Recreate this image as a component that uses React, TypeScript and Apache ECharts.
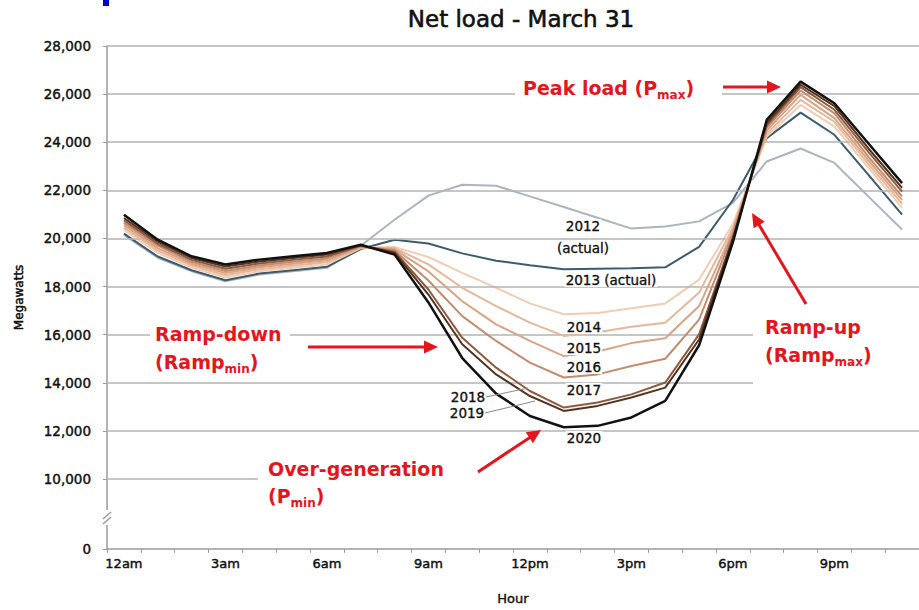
import React, { useEffect, useRef } from 'react';
import * as echarts from 'echarts';

const hours = ['12am', '1am', '2am', '3am', '4am', '5am', '6am', '7am', '8am', '9am', '10am', '11am',
  '12pm', '1pm', '2pm', '3pm', '4pm', '5pm', '6pm', '7pm', '8pm', '9pm', '10pm', '11pm'];

const yTickValues = [7100, 10000, 12000, 14000, 16000, 18000, 20000, 22000, 24000, 26000, 28000];
const gridValues = [10000, 12000, 14000, 16000, 18000, 20000, 22000, 24000, 26000, 28000];

const years = ['2012', '2013', '2014', '2015', '2016', '2017', '2018', '2019', '2020'];
const yearColors = ['#a9b5c0', '#3d5b6e', '#f2cdb3', '#e6b799', '#d9a384', '#c48b6c', '#8f5b3e', '#55331f', '#111111'];

const load2012 = [20150, 19200, 18640, 18220, 18500, 18640, 18780, 19700, 20780, 21780, 22230, 22190, 21750, 21310, 20860, 20410, 20500, 20710, 21480, 23200, 23740, 23140, 21750, 20370];
const load2013 = [20200, 19250, 18680, 18260, 18540, 18680, 18820, 19560, 19950, 19790, 19380, 19070, 18890, 18720, 18740, 18760, 18800, 19650, 21600, 24170, 25230, 24310, 22650, 20990];
const load2014 = [20350, 19400, 18780, 18380, 18640, 18780, 18920, 19600, 19650, 19230, 18570, 17950, 17300, 16850, 16900, 17100, 17300, 18290, 20600, 24240, 25550, 24650, 22950, 21270];
const load2015 = [20450, 19500, 18870, 18470, 18720, 18870, 19010, 19620, 19600, 18920, 17950, 17190, 16500, 15950, 16100, 16330, 16500, 17750, 20450, 24350, 25760, 24850, 23100, 21450];
const load2016 = [20550, 19600, 18950, 18560, 18800, 18950, 19090, 19650, 19550, 18630, 17390, 16430, 15740, 15110, 15300, 15650, 15850, 17190, 20300, 24480, 25970, 25000, 23250, 21600];
const load2017 = [20650, 19700, 19030, 18650, 18880, 19030, 19170, 19680, 19500, 18250, 16770, 15740, 14840, 14220, 14350, 14700, 15000, 16630, 20200, 24600, 26150, 25200, 23400, 21750];
const load2018 = [20750, 19780, 19110, 18740, 18960, 19110, 19250, 19700, 19450, 17880, 15870, 14630, 13660, 12970, 13180, 13520, 14010, 16010, 20050, 24700, 26290, 25350, 23600, 21950];
const load2019 = [20850, 19870, 19190, 18830, 19040, 19190, 19330, 19720, 19400, 17670, 15600, 14350, 13450, 12830, 13040, 13390, 13800, 15800, 20000, 24800, 26390, 25500, 23750, 22100];
const load2020 = [20990, 19950, 19260, 18920, 19120, 19260, 19400, 19740, 19330, 17340, 15030, 13550, 12620, 12150, 12210, 12560, 13250, 15560, 19850, 24930, 26520, 25620, 23960, 22300];

const allLoads = [load2012, load2013, load2014, load2015, load2016, load2017, load2018, load2019, load2020];

const FONT = '"DejaVu Sans", sans-serif';
const RED = '#e5151d';
const INK = '#111111';

function arrow(x1: number, y1: number, x2: number, y2: number) {
  const dx = x2 - x1;
  const dy = y2 - y1;
  const len = Math.sqrt(dx * dx + dy * dy);
  const ux = dx / len;
  const uy = dy / len;
  const headLen = 14;
  const halfW = 6.5;
  const bx = x2 - ux * headLen;
  const by = y2 - uy * headLen;
  return [
    {
      type: 'line', z: 100, silent: true,
      shape: { x1, y1, x2: bx + ux * 2, y2: by + uy * 2 },
      style: { stroke: RED, lineWidth: 3 },
    },
    {
      type: 'polygon', z: 100, silent: true,
      shape: { points: [[x2, y2], [bx - uy * halfW, by + ux * halfW], [bx + uy * halfW, by - ux * halfW]] },
      style: { fill: RED },
    },
  ];
}

function whiteBox(x: number, y: number, w: number, h: number) {
  return { type: 'rect', z: 99, silent: true, shape: { x, y, width: w, height: h }, style: { fill: '#ffffff' } };
}

function redText(x: number, y: number, parts: [string, string][]) {
  const text = parts.map(([k, t]) => `{${k}|${t}}`).join('');
  return {
    type: 'text', z: 101, silent: true, x, y,
    style: {
      text,
      align: 'left',
      verticalAlign: 'middle',
      rich: {
        a: { fontFamily: FONT, fontSize: 19, fontWeight: 'bold', fill: RED, color: RED, lineHeight: 26, verticalAlign: 'middle' },
        s: { fontFamily: FONT, fontSize: 12, fontWeight: 'bold', fill: RED, color: RED, lineHeight: 26, verticalAlign: 'bottom' },
      },
    },
  };
}

function yearText(x: number, y: number, t: string) {
  return {
    type: 'text', z: 101, silent: true, x, y,
    style: {
      text: t, fontFamily: FONT, fontSize: 13.5, fill: INK, align: 'center', verticalAlign: 'middle',
      stroke: INK, lineWidth: 0.35,
      backgroundColor: '#ffffff', padding: [0, 1],
    },
  };
}

export default function App() {
  const ref = useRef<HTMLDivElement>(null);

  useEffect(() => {
    if (!ref.current) return;
    const chart = echarts.init(ref.current, undefined, { renderer: 'svg' });

    const series: any[] = [
      {
        name: 'grid', type: 'line', data: [], z: 1, silent: true,
        markLine: {
          silent: true, symbol: ['none', 'none'], label: { show: false },
          lineStyle: { color: '#b3b3b3', width: 1.5, type: 'solid' },
          emphasis: { disabled: true },
          data: gridValues.map((v) => ({ yAxis: v })),
        },
      },
    ];
    years.forEach((yr, i) => {
      series.push({
        name: yr, type: 'line', data: allLoads[i], showSymbol: false, symbol: 'none', z: 2 + i,
        lineStyle: { color: yearColors[i], width: i === 8 ? 2.5 : 2 },
        itemStyle: { color: yearColors[i] },
        emphasis: { disabled: true }, silent: true,
      });
    });

    const graphic: any[] = [
      { type: 'rect', z: 100, silent: true, shape: { x: 103, y: 0, width: 6, height: 6 }, style: { fill: '#0000c8' } },
      {
        type: 'text', z: 101, silent: true, x: 521, y: 19,
        style: {
          text: 'Net load - March 31', fontFamily: FONT, fontSize: 23, fill: INK, align: 'center', verticalAlign: 'middle',
          stroke: INK, lineWidth: 0.6,
        },
      },
      whiteBox(100, 510, 14, 15),
      { type: 'line', z: 101, silent: true, shape: { x1: 103, y1: 519, x2: 111, y2: 512 }, style: { stroke: '#999', lineWidth: 1.5 } },
      { type: 'line', z: 101, silent: true, shape: { x1: 103, y1: 524, x2: 111, y2: 517 }, style: { stroke: '#999', lineWidth: 1.5 } },
      whiteBox(515, 74, 207, 28),
      redText(523, 88, [['a', 'Peak load (P'], ['s', 'max'], ['a', ')']]),
      ...arrow(723, 87, 781, 87),
      whiteBox(150, 320, 140, 58),
      redText(155, 334, [['a', 'Ramp-down']]),
      redText(155, 362, [['a', '(Ramp'], ['s', 'min'], ['a', ')']]),
      ...arrow(308, 347, 438, 347),
      whiteBox(753, 312, 166, 82),
      redText(765, 327, [['a', 'Ramp-up']]),
      redText(765, 355, [['a', '(Ramp'], ['s', 'max'], ['a', ')']]),
      ...arrow(806, 304, 752, 213),
      whiteBox(258, 455, 661, 56),
      redText(268, 469, [['a', 'Over-generation']]),
      redText(268, 496, [['a', '(P'], ['s', 'min'], ['a', ')']]),
      ...arrow(478, 472, 541, 430),
      yearText(583, 226, '2012'),
      yearText(583, 248, '(actual)'),
      yearText(611, 280, '2013 (actual)'),
      yearText(584, 327, '2014'),
      yearText(584, 348, '2015'),
      yearText(584, 367, '2016'),
      yearText(584, 390, '2017'),
      yearText(584, 438, '2020'),
      yearText(468, 397, '2018'),
      yearText(467, 413, '2019'),
      { type: 'line', z: 101, silent: true, shape: { x1: 486, y1: 397, x2: 528, y2: 388 }, style: { stroke: '#888', lineWidth: 1 } },
      { type: 'line', z: 101, silent: true, shape: { x1: 485, y1: 413, x2: 535, y2: 401 }, style: { stroke: '#888', lineWidth: 1 } },
    ];

    chart.setOption({
      animation: false,
      backgroundColor: '#ffffff',
      textStyle: { fontFamily: FONT },
      grid: { left: 107, right: -6, top: 46, bottom: 60, containLabel: false },
      xAxis: {
        type: 'category',
        data: hours,
        boundaryGap: true,
        name: 'Hour',
        nameLocation: 'middle',
        nameGap: 43,
        nameTextStyle: { fontFamily: FONT, fontSize: 13, color: INK, textBorderColor: INK, textBorderWidth: 0.4 },
        axisLine: { show: true, lineStyle: { color: '#9a9a9a', width: 1.5 } },
        axisTick: { show: true, interval: 0, alignWithLabel: false, length: 4, lineStyle: { color: '#9a9a9a', width: 1 } },
        axisLabel: {
          interval: (i: number) => i % 3 === 0,
          fontFamily: FONT, fontSize: 13, color: INK, margin: 8,
          textBorderColor: INK, textBorderWidth: 0.45,
        },
        splitLine: { show: false },
      },
      yAxis: {
        type: 'value',
        min: 7100,
        max: 28000,
        name: 'Megawatts',
        nameLocation: 'middle',
        nameGap: 82,
        nameTextStyle: { fontFamily: FONT, fontSize: 12, color: INK, textBorderColor: INK, textBorderWidth: 0.5 },
        axisLine: { show: true, lineStyle: { color: '#9a9a9a', width: 1.5 } },
        axisTick: { show: true, length: 4, customValues: yTickValues, lineStyle: { color: '#9a9a9a', width: 1 } },
        axisLabel: {
          customValues: yTickValues,
          fontFamily: FONT, fontSize: 13.5, color: INK, margin: 16,
          textBorderColor: INK, textBorderWidth: 0.45,
          formatter: (v: number) => (v === 7100 ? '0' : Number(v).toLocaleString('en-US')),
        },
        splitLine: { show: false },
      },
      series,
      graphic,
    });

    return () => chart.dispose();
  }, []);

  return (
    <div
      ref={ref}
      style={{ position: 'fixed', left: 0, top: 0, width: 919, height: 610, background: '#fff' }}
    />
  );
}
